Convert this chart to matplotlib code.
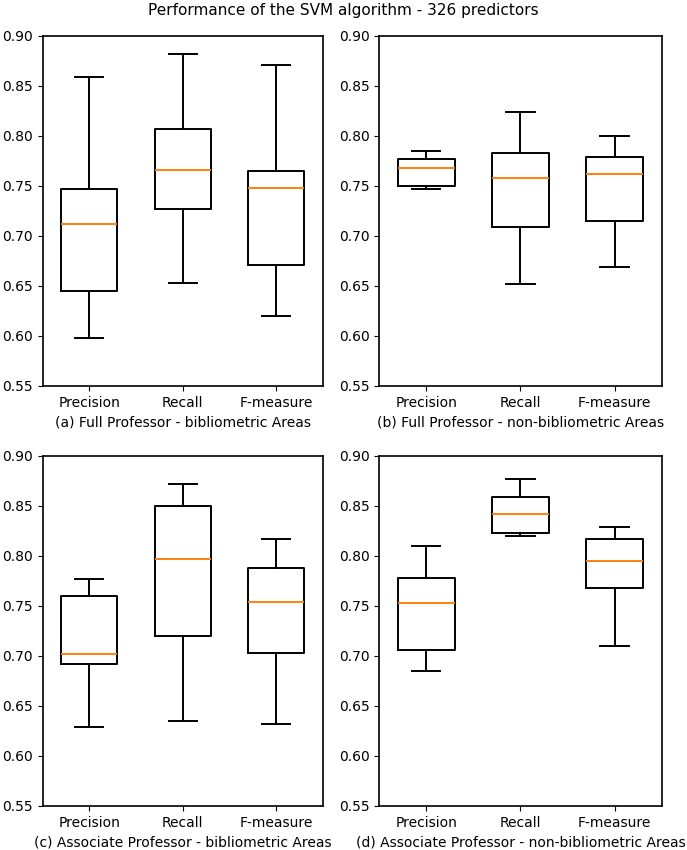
import matplotlib
matplotlib.use('Agg')
import matplotlib.pyplot as plt

metrics = ['Precision', 'Recall', 'F-measure']
panel_titles = ['(a) Full Professor - bibliometric Areas',
                '(b) Full Professor - non-bibliometric Areas',
                '(c) Associate Professor - bibliometric Areas',
                '(d) Associate Professor - non-bibliometric Areas']

# per metric: whisker low, Q1, median, Q3, whisker high
full_biblio = [[0.598, 0.645, 0.712, 0.747, 0.859],
               [0.653, 0.727, 0.766, 0.807, 0.882],
               [0.620, 0.671, 0.748, 0.765, 0.871]]
full_nonbiblio = [[0.747, 0.750, 0.768, 0.777, 0.785],
                  [0.652, 0.709, 0.758, 0.783, 0.824],
                  [0.669, 0.715, 0.762, 0.779, 0.800]]
assoc_biblio = [[0.629, 0.692, 0.702, 0.760, 0.777],
                [0.635, 0.720, 0.797, 0.850, 0.872],
                [0.632, 0.703, 0.754, 0.788, 0.817]]
assoc_nonbiblio = [[0.685, 0.706, 0.753, 0.778, 0.810],
                   [0.820, 0.823, 0.842, 0.859, 0.877],
                   [0.710, 0.768, 0.795, 0.817, 0.829]]

panels = [full_biblio, full_nonbiblio, assoc_biblio, assoc_nonbiblio]
yticks = [0.55, 0.60, 0.65, 0.70, 0.75, 0.80, 0.85, 0.90]

fig = plt.figure(figsize=(6.87, 8.5), dpi=100)
rects = [[0.062, 0.546, 0.408, 0.412],
         [0.552, 0.546, 0.411, 0.412],
         [0.062, 0.052, 0.408, 0.412],
         [0.552, 0.052, 0.411, 0.412]]

lw = 1.4
for rect, data, title in zip(rects, panels, panel_titles):
    ax = fig.add_axes(rect)
    stats = []
    for name, (lo, q1, med, q3, hi) in zip(metrics, data):
        stats.append({'label': name, 'whislo': lo, 'q1': q1, 'med': med,
                      'q3': q3, 'whishi': hi, 'fliers': []})
    ax.bxp(stats, widths=0.6, showfliers=False,
           boxprops=dict(linewidth=lw),
           whiskerprops=dict(linewidth=lw),
           capprops=dict(linewidth=lw),
           medianprops=dict(color='#ff7f0e', linewidth=lw))
    ax.set_ylim(0.55, 0.90)
    ax.set_xlim(0.5, 3.5)
    ax.set_yticks(yticks)
    ax.set_yticklabels(['%.2f' % v for v in yticks])
    ax.set_xlabel(title)
    for s in ax.spines.values():
        s.set_linewidth(1.2)

fig.suptitle('Performance of the SVM algorithm - 326 predictors', y=0.997, fontsize=11)
fig.savefig('out.png', dpi=100)
